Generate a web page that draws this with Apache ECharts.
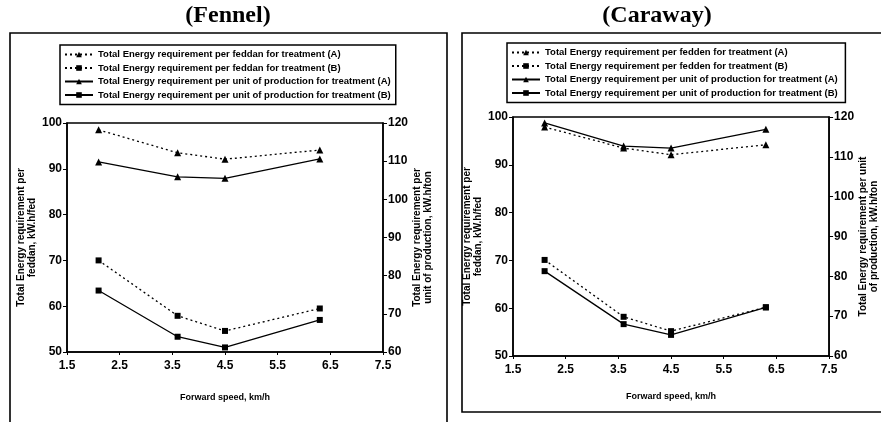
<!DOCTYPE html>
<html>
<head>
<meta charset="utf-8">
<script src="https://cdn.jsdelivr.net/npm/echarts@6/dist/echarts.min.js"></script>
<style>
html,body{margin:0;padding:0;background:#fff;}
#chart{width:881px;height:422px;}
</style>
</head>
<body>
<div id="chart"></div>
<script>
// ---- data ----
const speed = [2.1, 3.6, 4.5, 6.3];           // Forward speed, km/h
const xTicks = ['1.5','2.5','3.5','4.5','5.5','6.5','7.5'];

// Fennel
const fennelFeddanA = [98.5, 93.5, 92.1, 94.1];   // kW.h/fed (left axis)
const fennelFeddanB = [70.0, 57.9, 54.6, 59.5];
const fennelUnitA   = [109.8, 105.9, 105.5, 110.6]; // kW.h/ton (right axis)
const fennelUnitB   = [76.1, 64.0, 61.2, 68.4];

// Caraway
const carawayFeddanA = [97.9, 93.5, 92.1, 94.2];
const carawayFeddanB = [70.1, 58.2, 55.2, 60.2];
const carawayUnitA   = [118.5, 112.7, 112.2, 116.9];
const carawayUnitB   = [81.3, 68.0, 65.3, 72.2];

const fennelNames = [
  'Total Energy requirement per feddan for treatment (A)',
  'Total Energy requirement per feddan for treatment (B)',
  'Total Energy requirement per unit of production for treatment (A)',
  'Total Energy requirement per unit of production for treatment (B)'
];
const carawayNames = [
  'Total Energy requirement per fedden for treatment (A)',
  'Total Energy requirement per fedden for treatment (B)',
  'Total Energy requirement per unit of production for treatment (A) ',
  'Total Energy requirement per unit of production for treatment (B) '
];

// ---- chart ----
const SANS = "'Liberation Sans', Arial, sans-serif";

function series(name, vals, xi, yi, dotted, sym) {
  return {
    type: 'line', name: name, xAxisIndex: xi, yAxisIndex: yi,
    data: speed.map((x, i) => [x, vals[i]]),
    symbol: sym, symbolSize: sym === 'triangle' ? 7 : 6,
    lineStyle: { color: '#000', width: 1.3, type: dotted ? [2, 3] : 'solid' },
    itemStyle: { color: '#000' },
    animation: false
  };
}

function xAxis(gi, gap) {
  return {
    type: 'value', gridIndex: gi, min: 1.5, max: 7.5, interval: 1,
    name: 'Forward speed, km/h', nameLocation: 'middle', nameGap: gap,
    nameTextStyle: { fontFamily: SANS, fontWeight: 'bold', fontSize: 9, color: '#000' },
    axisLine: { lineStyle: { color: '#000', width: 1.5 } },
    axisTick: { show: true, length: 3, lineStyle: { color: '#000' } },
    axisLabel: { color: '#000', fontFamily: SANS, fontWeight: 'bold', fontSize: 12, margin: 8,
                 formatter: v => v.toFixed(1) },
    splitLine: { show: false }
  };
}
function yAxis(gi, pos, min, max, name, gap) {
  return {
    type: 'value', gridIndex: gi, position: pos, min: min, max: max, interval: 10,
    name: name, nameLocation: 'middle', nameRotate: 90, nameGap: gap,
    nameTextStyle: { fontFamily: SANS, fontWeight: 'bold', fontSize: 10, lineHeight: 11, color: '#000' },
    axisLine: { show: true, lineStyle: { color: '#000', width: 1.5 } },
    axisTick: { show: true, length: 4, lineStyle: { color: '#000' } },
    axisLabel: { color: '#000', fontFamily: SANS, fontWeight: 'bold', fontSize: 12, margin: 5 },
    splitLine: { show: false }
  };
}
function legend(names, left, top) {
  return {
    orient: 'vertical', left: left, top: top, data: names,
    itemWidth: 28, itemHeight: 7, itemGap: 2.5,
    padding: [4, 5, 4, 4],
    borderColor: '#000', borderWidth: 1.5,
    selectedMode: false,
    textStyle: { fontFamily: SANS, fontWeight: 'bold', fontSize: 9.5, color: '#000', lineHeight: 11 }
  };
}

const chart = echarts.init(document.getElementById('chart'), null, { renderer: 'canvas' });
chart.setOption({
  backgroundColor: '#fff',
  animation: false,
  graphic: [
    { type: 'rect', shape: { x: 10, y: 33, width: 437, height: 420 },
      style: { fill: 'none', stroke: '#000', lineWidth: 1.6 } },
    { type: 'rect', shape: { x: 462, y: 33, width: 440, height: 379 },
      style: { fill: 'none', stroke: '#000', lineWidth: 1.6 } },
    { type: 'text', x: 228, y: 16,
      style: { text: '(Fennel)', font: 'bold 24px "Liberation Serif", serif', fill: '#000',
               textAlign: 'center', textVerticalAlign: 'middle' } },
    { type: 'text', x: 657, y: 16,
      style: { text: '(Caraway)', font: 'bold 24px "Liberation Serif", serif', fill: '#000',
               textAlign: 'center', textVerticalAlign: 'middle' } }
  ],
  legend: [ legend(fennelNames, 60, 45), legend(carawayNames, 507, 43) ],
  grid: [
    { left: 67, right: 498, top: 123, bottom: 70, show: true, borderColor: '#000', borderWidth: 1.5, backgroundColor: 'transparent' },
    { left: 513, right: 51, top: 117, bottom: 66, show: true, borderColor: '#000', borderWidth: 1.5, backgroundColor: 'transparent' }
  ],
  xAxis: [ xAxis(0, 41), xAxis(1, 36) ],
  yAxis: [
    yAxis(0, 'left', 50, 100, 'Total Energy requirement per\nfeddan, kW.h/fed', 25),
    yAxis(0, 'right', 60, 120, 'Total Energy requirement per\nunit of production, kW.h/ton', 24),
    yAxis(1, 'left', 50, 100, 'Total Energy requirement per\nfeddan, kW.h/fed', 28),
    yAxis(1, 'right', 60, 120, 'Total Energy requirement per unit\nof production, kW.h/ton', 25)
  ],
  series: [
    series(fennelNames[0], fennelFeddanA, 0, 0, true, 'triangle'),
    series(fennelNames[1], fennelFeddanB, 0, 0, true, 'rect'),
    series(fennelNames[2], fennelUnitA, 0, 1, false, 'triangle'),
    series(fennelNames[3], fennelUnitB, 0, 1, false, 'rect'),
    series(carawayNames[0], carawayFeddanA, 1, 2, true, 'triangle'),
    series(carawayNames[1], carawayFeddanB, 1, 2, true, 'rect'),
    series(carawayNames[2], carawayUnitA, 1, 3, false, 'triangle'),
    series(carawayNames[3], carawayUnitB, 1, 3, false, 'rect')
  ]
});
</script>
</body>
</html>
